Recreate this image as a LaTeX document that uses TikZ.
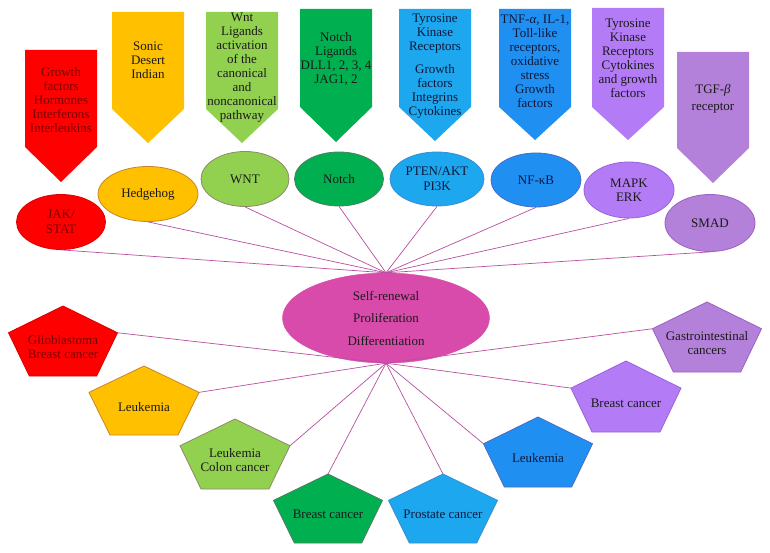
\documentclass[tikz,border=0pt]{standalone}
\usepackage{fontspec}
\setmainfont{Liberation Serif}
\usetikzlibrary{shapes.geometric}
\definecolor{cRed}{HTML}{FF0000}
\definecolor{cRedB}{HTML}{D80000}
\definecolor{cRedT}{HTML}{7A0000}
\definecolor{cYel}{HTML}{FFC000}
\definecolor{cYelB}{HTML}{C8862A}
\definecolor{cLGr}{HTML}{92D050}
\definecolor{cLGrB}{HTML}{8E8A6A}
\definecolor{cGr}{HTML}{00B050}
\definecolor{cGrB}{HTML}{4E7F5E}
\definecolor{cLBl}{HTML}{1CA7EE}
\definecolor{cLBlB}{HTML}{3A8ED2}
\definecolor{cBl}{HTML}{1F8FF2}
\definecolor{cBlB}{HTML}{4A6AC8}
\definecolor{cPu}{HTML}{B37CF6}
\definecolor{cPuB}{HTML}{9A62D8}
\definecolor{cMPu}{HTML}{B481DA}
\definecolor{cMPuB}{HTML}{9A60C2}
\definecolor{cMag}{HTML}{D84BAA}
\definecolor{cLine}{HTML}{B94FA0}
\definecolor{cTxt}{HTML}{1A1A1A}
\definecolor{cBlT}{HTML}{10183A}
\tikzset{
  boxtext/.style={align=center, inner sep=0pt, text=cTxt, font=\fontsize{13}{14}\selectfont},
  pathnode/.style={ellipse, inner sep=0pt, line width=0.8pt, text=cTxt, align=center, font=\fontsize{13}{14.5}\selectfont},
  pentext/.style={align=center, inner sep=0pt, text=cTxt, font=\fontsize{13}{14}\selectfont},
  conn/.style={draw=cLine, line width=0.7pt},
}
% arrow box: cx, top, side end, tip, colour
\newcommand\arrowbox[5]{%
  \fill[#5] (#1-36,#2) -- (#1+36,#2) -- (#1+36,#3) -- (#1,#4) -- (#1-36,#3) -- cycle;}
% pentagon: name, cx, top, W, H, fill, border, text, textcolour
\newcommand\pentshape[9]{%
  \begin{scope}[shift={(#2,#3)}, xscale=#4, yscale=#5]
    \draw[draw=#7, fill=#6, line width=0.8pt] (0,0) coordinate (#1-t) -- (0.5,0.382) coordinate (#1-r)
      -- (0.309,1) -- (-0.309,1) -- (-0.5,0.382) coordinate (#1-l) -- cycle;
  \end{scope}
  \node[pentext, text=#9] (#1) at (#2, #3+0.59*#5) {#8};}
\begin{document}
\begin{tikzpicture}[x=1pt, y=-1pt]
\useasboundingbox[fill=white] (0,0) rectangle (770,553);

% ---- top arrow boxes ----
\arrowbox{61}{50}{147}{182}{cRed}
\arrowbox{148}{12}{109}{143}{cYel}
\arrowbox{242}{12}{109}{143}{cLGr}
\arrowbox{336}{9}{107}{142}{cGr}
\arrowbox{435}{9}{107}{141}{cLBl}
\arrowbox{535}{9}{107}{140}{cBl}
\arrowbox{628}{8}{107}{140}{cPu}
\arrowbox{713}{52}{148}{183}{cMPu}

\node[boxtext, text=cRedT] (t1) at (61,100) {Growth\\factors\\Hormones\\Interferons\\Interleukins};
\node[boxtext] (t2) at (148,60) {Sonic\\Desert\\Indian};
\node[boxtext] (t3) at (242,68) {Wnt\\Ligands\\activation\\of the\\canonical\\and\\noncanonical\\pathway};
\node[boxtext] (t4) at (336,59) {Notch\\Ligands\\DLL1, 2, 3, 4\\JAG1, 2};
\node[boxtext, text=cBlT] (t5) at (435,66) {Tyrosine\\Kinase\\Receptors\\[9pt]Growth\\factors\\Integrins\\Cytokines};
\node[boxtext, text=cBlT] (t6) at (535,61) {TNF-\textit{α}, IL-1,\\Toll-like\\receptors,\\oxidative\\stress\\Growth\\factors};
\node[boxtext] (t7) at (628,58) {Tyrosine\\Kinase\\Receptors\\Cytokines\\and growth\\factors};
\node[boxtext] (t8) at (713,99) {TGF-\textit{β}\\[3pt]receptor};

% ---- pathway ellipses ----
\node[pathnode, fill=cRed, draw=cRedB, text=cRedT, minimum width=89pt, minimum height=55pt] (jak) at (61,222) {JAK/\\STAT};
\node[pathnode, fill=cYel, draw=cYelB, minimum width=100pt, minimum height=55pt] (hh) at (148,194) {Hedgehog};
\node[pathnode, fill=cLGr, draw=cLGrB, minimum width=88pt, minimum height=55pt] (wnt) at (245,179) {WNT};
\node[pathnode, fill=cGr, draw=cGrB, minimum width=89pt, minimum height=54pt] (notch) at (339,179) {Notch};
\node[pathnode, fill=cLBl, draw=cLBlB, text=cBlT, minimum width=94pt, minimum height=54pt] (pten) at (437,179) {PTEN/AKT\\PI3K};
\node[pathnode, fill=cBl, draw=cBlB, text=cBlT, minimum width=90pt, minimum height=54pt] (nfkb) at (536,180) {NF-κB};
\node[pathnode, fill=cPu, draw=cPuB, minimum width=90pt, minimum height=56pt] (mapk) at (629,190) {MAPK\\ERK};
\node[pathnode, fill=cMPu, draw=cMPuB, minimum width=90pt, minimum height=57pt] (smad) at (710,223) {SMAD};

% ---- central ellipse ----
\node[ellipse, fill=cMag, draw=cMag, inner sep=0pt, minimum width=207pt, minimum height=90pt,
      align=center, text=cTxt, font=\fontsize{13}{22.5}\selectfont] (core) at (386,318)
      {Self-renewal\\Proliferation\\Differentiation};

% ---- cancer pentagons ----
\pentshape{p1}{63}{306}{109}{70}{cRed}{cRedB}{Glioblastoma\\Breast cancer}{cRedT}
\pentshape{p2}{144}{366}{110}{69}{cYel}{cYelB}{Leukemia}{cTxt}
\pentshape{p3}{235}{419}{110}{70}{cLGr}{cLGrB}{Leukemia\\Colon cancer}{cTxt}
\pentshape{p4}{328}{474}{109}{69}{cGr}{cGrB}{Breast cancer}{cTxt}
\pentshape{p5}{443}{474}{109}{69}{cLBl}{cLBlB}{Prostate cancer}{cBlT}
\pentshape{p6}{538}{417}{109}{70}{cBl}{cBlB}{Leukemia}{cBlT}
\pentshape{p7}{626}{361}{110}{71}{cPu}{cPuB}{Breast cancer}{cTxt}
\pentshape{p8}{707}{302}{109}{70}{cMPu}{cMPuB}{Gastrointestinal\\cancers}{cTxt}

% ---- connectors ----
\foreach \n in {jak,hh,wnt,notch,pten,nfkb,mapk,smad}
  \draw[conn] (\n.south) -- (core.north);
\draw[conn] (p1-r) -- (core.south);
\draw[conn] (p2-r) -- (core.south);
\draw[conn] (p3-r) -- (core.south);
\draw[conn] (p4-t) -- (core.south);
\draw[conn] (p5-t) -- (core.south);
\draw[conn] (p6-l) -- (core.south);
\draw[conn] (p7-l) -- (core.south);
\draw[conn] (p8-l) -- (core.south);
\end{tikzpicture}
\end{document}
